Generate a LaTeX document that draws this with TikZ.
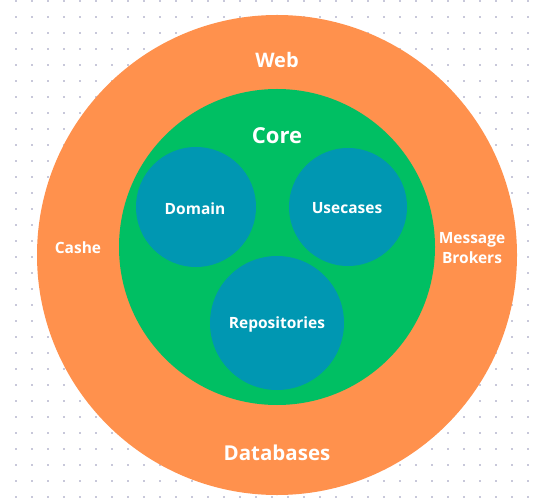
\documentclass[tikz,border=0pt]{standalone}
\usepackage{fontspec}
\setmainfont{Open Sans}
\definecolor{orng}{HTML}{FF914D}
\definecolor{grn}{HTML}{00BF63}
\definecolor{blu}{HTML}{0097B2}
\definecolor{dotc}{HTML}{C8C8DA}
\tikzset{
  lbl/.style={text=white, font=\bfseries, align=center, inner sep=0pt},
  ring/.style={circle, inner sep=0pt, draw=none},
}
\begin{document}
\begin{tikzpicture}[x=1pt,y=-1pt]
\useasboundingbox (0,0) rectangle (537,502);
\fill[white] (0,0) rectangle (537,502);
\foreach \i in {0,...,33}{
  \foreach \j in {0,...,31}{
    \fill[dotc] ({16+16*\i-1},{0.7+16*\j-1}) rectangle ++(2,2);
  }
}
\node[ring, fill=orng, minimum size=480pt] (web) at (277,255) {};
\node[ring, fill=grn, minimum size=316pt] (core) at (277,247) {};
\node[ring, fill=blu, minimum size=120pt] (domain) at (196,207) {};
\node[ring, fill=blu, minimum size=118pt] (usecases) at (348,207) {};
\node[ring, fill=blu, minimum size=134pt] (repos) at (277,323) {};
\node[lbl, font=\fontsize{20}{22}\selectfont\bfseries] (tweb) at (277,60) {Web};
\node[lbl, font=\fontsize{22}{24}\selectfont\bfseries] (tcore) at (277,136) {Core};
\node[lbl, font=\fontsize{15.5}{17}\selectfont\bfseries] (tdomain) at (195,209) {Domain};
\node[lbl, font=\fontsize{15.5}{17}\selectfont\bfseries] (tuse) at (347,208) {Usecases};
\node[lbl, font=\fontsize{15.5}{17}\selectfont\bfseries] (trepo) at (277,324) {Repositories};
\node[lbl, font=\fontsize{15.5}{17}\selectfont\bfseries] (tcashe) at (78,248) {Cashe};
\node[lbl, font=\fontsize{15.5}{20}\selectfont\bfseries] (tmsg) at (472,248) {Message\\Brokers};
\node[lbl, font=\fontsize{20.5}{22}\selectfont\bfseries] (tdb) at (277,453) {Databases};
\end{tikzpicture}
\end{document}
